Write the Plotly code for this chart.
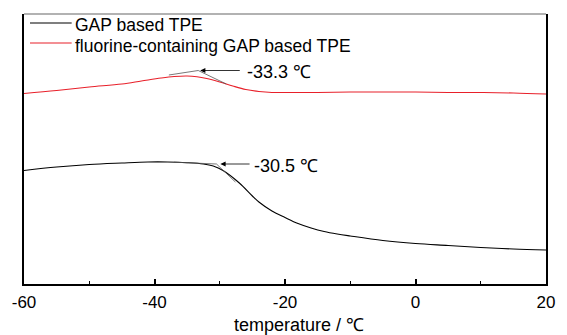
import plotly.graph_objects as go

# ---- data ----
gap_T = [-60, -55, -50, -45, -41, -38, -35, -32.5, -31, -29.5, -27, -25, -24, -22, -20, -18, -16,
         -14, -12, -10, -5, 0, 5, 10, 15, 20]
gap_v = [113.5, 117, 119.5, 121, 122, 122, 121.3, 120, 118, 113.5, 101, 88, 82, 73, 66.5, 60.5, 56,
         52.5, 50, 48, 43.5, 40.5, 38.5, 36.5, 35, 34]

fgap_T = [-60, -55, -50, -45, -42, -39, -37, -35, -33.5, -32, -30, -28, -26, -24, -22, -20, -15,
          -10, -5, 0, 5, 10, 15, 20]
fgap_v = [190.5, 193.5, 197, 200, 203, 206, 207.5, 208, 207.3, 205.5, 202, 198, 194.5, 192.5,
          191.5, 191.5, 191.5, 192, 192, 192, 191.5, 191.5, 191, 190]

# tangent construction lines (onset determination)
fgap_tan1_T = [-37.8, -33.3]
fgap_tan1_v = [209, 213.5]
fgap_tan2_T = [-33.3, -29.0]
fgap_tan2_v = [213.5, 200]
gap_tan1_T = [-37, -30.5]
gap_tan1_v = [121.8, 120]
gap_tan2_T = [-30.5, -27.6]
gap_tan2_v = [120, 102]

onset_labels = ["-33.3 ℃", "-30.5 ℃"]
onset_head_T = [-33.0, -29.9]
onset_tail_T = [-26.7, -25.2]
onset_v = [213.5, 120]
onset_text_T = [-26.1, -25.0]

series_names = ["GAP based TPE", "fluorine-containing GAP based TPE"]
x_ticks = [-60, -40, -20, 0, 20]
x_tick_text = ["-60", "-40", "-20", "0", "20"]

FONT = "Liberation Sans, Arial, sans-serif"

fig = go.Figure()
fig.add_trace(go.Scatter(x=gap_T, y=gap_v, mode="lines", line=dict(color="black", width=1.1, shape="spline"),
                         name=series_names[0], showlegend=False))
fig.add_trace(go.Scatter(x=fgap_T, y=fgap_v, mode="lines", line=dict(color="#e8202a", width=1.1, shape="spline"),
                         name=series_names[1], showlegend=False))
for tx, tv in [(fgap_tan1_T, fgap_tan1_v), (fgap_tan2_T, fgap_tan2_v), (gap_tan1_T, gap_tan1_v), (gap_tan2_T, gap_tan2_v)]:
    fig.add_trace(go.Scatter(x=tx, y=tv, mode="lines", line=dict(color="#555555", width=0.8),
                             showlegend=False, hoverinfo="skip"))

anns = []
for lab, hT, tT, v, xT in zip(onset_labels, onset_head_T, onset_tail_T, onset_v, onset_text_T):
    anns.append(dict(x=hT, y=v, ax=tT, ay=v, axref="x", ayref="y", xref="x", yref="y", text="",
                     showarrow=True, arrowhead=2, arrowsize=1.3, arrowwidth=0.8, arrowcolor="black"))
    anns.append(dict(x=xT, y=v - 1.5, xref="x", yref="y", text=lab, showarrow=False, xanchor="left",
                     yanchor="middle", font=dict(family=FONT, size=18, color="black")))

# manual legend
leg_y_line = [0.9667, 0.8926]
leg_y_text = [0.961, 0.883]
leg_colors = ["black", "#e8202a"]
shapes = []
for name, yl, yt, c in zip(series_names, leg_y_line, leg_y_text, leg_colors):
    shapes.append(dict(type="line", xref="paper", yref="paper", x0=0.0114, x1=0.0913, y0=yl, y1=yl,
                       line=dict(color=c, width=1.1)))
    anns.append(dict(x=0.093, y=yt, xref="paper", yref="paper", text=name, showarrow=False,
                     xanchor="left", yanchor="middle", font=dict(family=FONT, size=17.5, color="black")))
# top frame
shapes.append(dict(type="line", xref="paper", yref="paper", x0=0, x1=1, y0=1, y1=1,
                   line=dict(color="#666666", width=1.2)))
# x title
anns.append(dict(x=0.527, y=-0.15, xref="paper", yref="paper", text="temperature / ℃", showarrow=False,
                 xanchor="center", yanchor="middle", font=dict(family=FONT, size=18, color="black")))

fig.update_layout(
    width=567, height=335, margin=dict(l=24, r=17, t=14, b=51),
    paper_bgcolor="white", plot_bgcolor="white",
    annotations=anns, shapes=shapes,
    xaxis=dict(range=[-60, 20], tickvals=x_ticks, ticktext=x_tick_text, ticks="inside", ticklen=5,
               tickwidth=1.5, tickcolor="black",
               minor=dict(dtick=10, tick0=0, ticks="inside", ticklen=3, tickwidth=1.2, tickcolor="black"),
               showline=True, linecolor="black", linewidth=1.5, showgrid=False, zeroline=False,
               tickfont=dict(family=FONT, size=17, color="black"), ticklabelstandoff=2),
    yaxis=dict(range=[0, 270], showline=True, mirror=True, linecolor="black", linewidth=1.5,
               showticklabels=False, ticks="", showgrid=False, zeroline=False),
)
fig.write_html("out.html")
